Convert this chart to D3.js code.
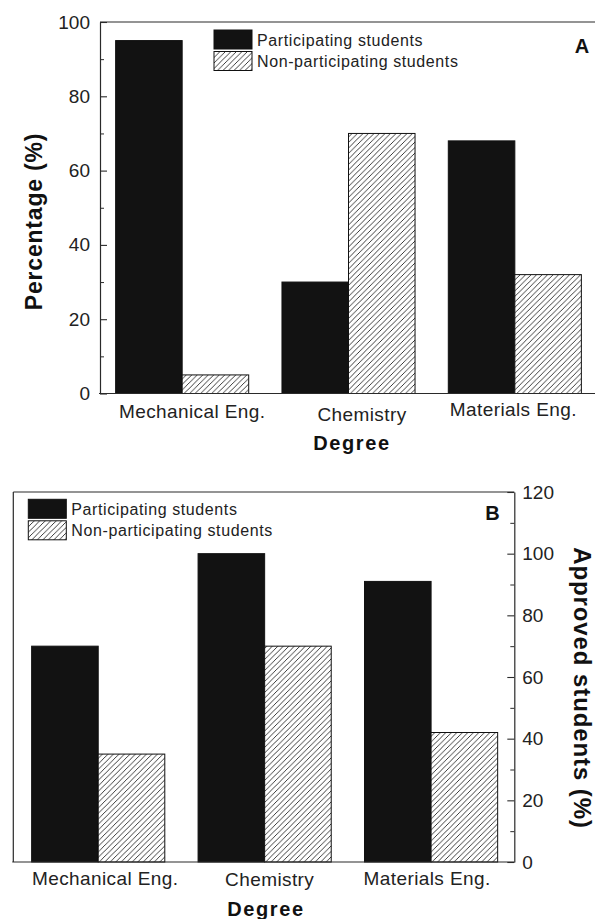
<!DOCTYPE html>
<html>
<head>
<meta charset="utf-8">
<script src="https://cdn.jsdelivr.net/npm/d3@7"></script>
<style>
  html, body { margin: 0; padding: 0; background: #fff; }
  svg { display: block; }
  text { font-family: "Liberation Sans", Arial, Helvetica, sans-serif; }
</style>
</head>
<body>
<svg id="chart" width="595" height="919"></svg>
<script>
// ---------------- DATA ----------------
const categories = ["Mechanical Eng.", "Chemistry", "Materials Eng."];
const seriesNames = ["Participating students", "Non-participating students"];
const percentParticipating = [95, 30, 68];
const percentNonParticipating = [5, 70, 32];
const approvedParticipating = [70, 100, 91];
const approvedNonParticipating = [35, 70, 42];
const ticksA = [0, 20, 40, 60, 80, 100];
const minorTicksA = [10, 30, 50, 70, 90];
const ticksB = [0, 20, 40, 60, 80, 100, 120];
const minorTicksB = [10, 30, 50, 70, 90, 110];

// ---------------- LAYOUT ----------------
const svg = d3.select("#chart");
const FRAME = "#2a2a2a";
const BAR_DARK = "#121212";
const TEXT = "#222";

const defs = svg.append("defs");
const P = 5.5;
const pat = defs.append("pattern")
  .attr("id", "hatch").attr("patternUnits", "userSpaceOnUse")
  .attr("width", P).attr("height", P);
pat.append("rect").attr("width", P).attr("height", P).attr("fill", "#fff");
pat.append("path")
  .attr("d", `M-1,1 L1,-1 M0,${P} L${P},0 M${P - 1},${P + 1} L${P + 1},${P - 1}`)
  .attr("stroke", "#1a1a1a").attr("stroke-width", 0.85);

const fillFor = i => i === 0 ? BAR_DARK : "url(#hatch)";

function panel(cfg) {
  const g = svg.append("g");
  const x = d3.scaleBand().domain(categories).range(cfg.xRange)
    .paddingInner(0.2).paddingOuter(0.1);
  const xs = d3.scaleBand().domain(seriesNames).range([0, x.bandwidth()]).padding(0);
  const y = d3.scaleLinear().domain(cfg.yDomain).range(cfg.yRange);

  const rows = categories.map((c, i) => ({ c, vals: [cfg.s1[i], cfg.s2[i]] }));

  // bars
  const grp = g.selectAll("g.cat").data(rows).join("g")
    .attr("transform", d => `translate(${x(d.c)},0)`);
  grp.selectAll("rect").data(d => d.vals.map((v, k) => ({ v, k }))).join("rect")
    .attr("x", d => xs(seriesNames[d.k]))
    .attr("width", xs.bandwidth())
    .attr("y", d => y(d.v))
    .attr("height", d => y(cfg.yDomain[0]) - y(d.v))
    .attr("fill", d => fillFor(d.k))
    .attr("stroke", "#111").attr("stroke-width", 1);

  // frame lines
  const yTop = y(cfg.yDomain[1]), yBot = y(cfg.yDomain[0]);
  g.append("line").attr("x1", cfg.frameL).attr("x2", cfg.frameR)
    .attr("y1", yTop).attr("y2", yTop).attr("stroke", FRAME).attr("stroke-width", 1.2);
  g.append("line").attr("x1", cfg.frameL - 1).attr("x2", cfg.frameR)
    .attr("y1", yBot).attr("y2", yBot).attr("stroke", FRAME).attr("stroke-width", 1.2);
  if (cfg.extraLeft) {
    g.append("line").attr("x1", cfg.frameL).attr("x2", cfg.frameL)
      .attr("y1", yTop).attr("y2", yBot).attr("stroke", FRAME).attr("stroke-width", 1.2);
  }

  // value axis
  const axisX = cfg.axisSide === "left" ? cfg.frameL : cfg.frameR;
  const mk = cfg.axisSide === "left" ? d3.axisLeft : d3.axisRight;
  const ax = g.append("g").attr("transform", `translate(${axisX},0)`)
    .call(mk(y).tickValues(cfg.ticks).tickSizeInner(-7).tickSizeOuter(0)
      .tickPadding(cfg.tickPad).tickFormat(d3.format("d")));
  ax.select(".domain").attr("stroke", FRAME).attr("stroke-width", 1.2);
  ax.selectAll(".tick line").attr("stroke", FRAME).attr("stroke-width", 1.1);
  ax.selectAll(".tick text").attr("fill", TEXT)
    .style("font-size", "19px").style("font-family", "Liberation Sans, Arial, sans-serif");
  const axm = g.append("g").attr("transform", `translate(${axisX},0)`)
    .call(mk(y).tickValues(cfg.minor).tickSizeInner(-4).tickSizeOuter(0).tickFormat(""));
  axm.select(".domain").remove();
  axm.selectAll(".tick line").attr("stroke", FRAME).attr("stroke-width", 1);

  // category axis labels
  const cx = g.append("g").attr("transform", `translate(0,${yBot})`)
    .call(d3.axisBottom(x).tickSize(0).tickPadding(cfg.catPad));
  cx.select(".domain").remove();
  cx.selectAll(".tick text").attr("fill", TEXT)
    .style("font-size", "19px").style("letter-spacing", "0.4px")
    .style("font-family", "Liberation Sans, Arial, sans-serif")
    .attr("dx", (d, i) => cfg.catOffsets[i][0])
    .attr("transform", (d, i) => `translate(0,${cfg.catOffsets[i][1]})`);

  // x title
  g.append("text").text("Degree")
    .attr("x", cfg.degree[0]).attr("y", cfg.degree[1])
    .attr("text-anchor", "middle").attr("font-weight", "bold")
    .attr("fill", "#111").style("font-size", "20px").style("letter-spacing", "1.6px");

  // y title
  g.append("text").text(cfg.yTitle)
    .attr("transform", `translate(${cfg.yTitlePos[0]},${cfg.yTitlePos[1]}) rotate(${cfg.yTitleRot})`)
    .attr("text-anchor", "middle").attr("font-weight", "bold")
    .attr("fill", "#111").style("font-size", cfg.yTitleSize).style("letter-spacing", cfg.yTitleLs);

  // panel letter
  g.append("text").text(cfg.letter)
    .attr("x", cfg.letterPos[0]).attr("y", cfg.letterPos[1])
    .attr("text-anchor", "middle").attr("font-weight", "bold")
    .attr("fill", "#111").style("font-size", "20px");

  // legend
  const lg = g.append("g").attr("transform", `translate(${cfg.legend[0]},${cfg.legend[1]})`);
  seriesNames.forEach((s, i) => {
    lg.append("rect").attr("x", 0).attr("y", i * 21.5).attr("width", 38).attr("height", 19)
      .attr("fill", fillFor(i)).attr("stroke", "#111").attr("stroke-width", 1);
    lg.append("text").text(s).attr("x", 43).attr("y", i * 21.5 + 15.5)
      .attr("fill", TEXT).style("font-size", "16px").style("letter-spacing", "0.6px");
  });
}

panel({
  xRange: [99, 598], yDomain: [0, 100], yRange: [393.5, 22],
  s1: percentParticipating, s2: percentNonParticipating,
  frameL: 100, frameR: 600, extraLeft: false, axisSide: "left",
  ticks: ticksA, minor: minorTicksA, tickPad: 10,
  catPad: 11, catOffsets: [[10, 0], [13.5, 3], [-1.5, -1.5]],
  degree: [352, 450], yTitle: "Percentage (%)", yTitlePos: [41.5, 221.5], yTitleRot: -90,
  yTitleSize: "23px", yTitleLs: "0.8px",
  letter: "A", letterPos: [582, 53], legend: [214, 30]
});

panel({
  xRange: [15, 514.3], yDomain: [0, 120], yRange: [862, 492],
  s1: approvedParticipating, s2: approvedNonParticipating,
  frameL: 13.3, frameR: 514.3, extraLeft: true, axisSide: "right",
  ticks: ticksB, minor: minorTicksB, tickPad: 8,
  catPad: 9.5, catOffsets: [[7, 0], [5, 1], [-4, 0]],
  degree: [266, 916], yTitle: "Approved students (%)", yTitlePos: [574, 688], yTitleRot: 90,
  yTitleSize: "24px", yTitleLs: "0.9px",
  letter: "B", letterPos: [492.5, 520], legend: [28.3, 499.3]
});
</script>
</body>
</html>
